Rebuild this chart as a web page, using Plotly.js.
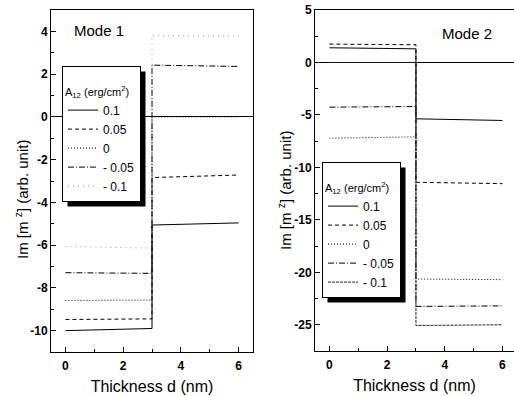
<!DOCTYPE html>
<html>
<head>
<meta charset="utf-8">
<script src="https://cdn.plot.ly/plotly-3.0.1.min.js"></script>
<style>
html,body{margin:0;padding:0;overflow:hidden;background:#fff;}
#chart g.xtick text, #chart g.ytick text, #chart g.x2tick text, #chart g.y2tick text { font-weight: 700 !important; }
</style>
</head>
<body>
<div id="chart" style="width:514px;height:396px;"></div>
<script>
// ---- data ----
const thickness = [0, 3, 3, 6];           // nm, step at d = 3 nm
const seriesLabels = ['0.1', '0.05', '0', '- 0.05', '- 0.1'];

// Mode 1 : Im[m_z] values at d = 0, 3 (left layer), 3, 6 (right layer)
const mode1_p010 = [-10.0, -9.9, -5.06, -4.96];
const mode1_p005 = [-9.48, -9.45, -2.84, -2.72];
const mode1_000  = [-8.59, -8.57, 0.0, 0.0];
const mode1_m005 = [-7.29, -7.32, 2.42, 2.36];
const mode1_m010 = [-6.06, -6.14, 3.80, 3.78];

// Mode 2
const mode2_p010 = [1.40, 1.30, -5.37, -5.53];
const mode2_p005 = [1.75, 1.69, -11.42, -11.55];
const mode2_000  = [-7.22, -7.09, -20.64, -20.70];
const mode2_m005 = [-4.26, -4.20, -23.25, -23.20];
const mode2_m010 = [0.0, 0.0, -25.07, -25.00];

// tick labels
const xTickVals = [0, 2, 4, 6];
const xTickText = ['0', '2', '4', '6'];
const y1TickVals = [-10, -8, -6, -4, -2, 0, 2, 4];
const y1TickText = ['-10', '-8', '-6', '-4', '-2', '0', '2', '4'];
const y2TickVals = [-25, -20, -15, -10, -5, 0, 5];
const y2TickText = ['-25', '-20', '-15', '-10', '-5', '0', '5'];

// ---- styles ----
const W = 514, H = 396, ML = 51, MR = 0, MT = 10, MB = 44;
const PW = W - ML - MR, PH = H - MT - MB;
const px = x => (x - ML) / PW;
const py = y => 1 - (y - MT) / PH;

const FAM = 'Liberation Sans, Arial, sans-serif';
const dash1 = ['solid', '4px,3px', '1px,2px', '6px,2px,1px,2px', '1px,4px'];
const col1  = ['#000', '#000', '#000', '#000', '#999'];
const dash2 = ['solid', '4px,3px', '1px,2px', '6px,2px,1px,2px', '3px,1px'];
const col2  = ['#000', '#000', '#000', '#000', '#222'];

const m1 = [mode1_p010, mode1_p005, mode1_000, mode1_m005, mode1_m010];
const m2 = [mode2_p010, mode2_p005, mode2_000, mode2_m005, mode2_m010];

const traces = [];
m1.forEach((ys, i) => traces.push({
  x: thickness, y: ys, type: 'scatter', mode: 'lines', name: seriesLabels[i],
  xaxis: 'x', yaxis: 'y', legend: 'legend',
  line: {color: col1[i], width: 1, dash: dash1[i]}
}));
m2.forEach((ys, i) => traces.push({
  x: thickness, y: ys, type: 'scatter', mode: 'lines', name: seriesLabels[i],
  xaxis: 'x2', yaxis: 'y2', legend: 'legend2',
  line: {color: col2[i], width: 1, dash: dash2[i]}
}));

const tickFont = {family: FAM, size: 12, color: '#000', weight: 700};
const titleFont = {family: FAM, size: 16, color: '#000'};

function xAx(domain, range, anchor) {
  return {
    domain: domain, range: range, anchor: anchor,
    showline: true, mirror: true, linecolor: '#000', linewidth: 1,
    showgrid: false, zeroline: false,
    ticks: 'inside', ticklen: 5, tickcolor: '#000',
    tickmode: 'array', tickvals: xTickVals, ticktext: xTickText,
    minor: {ticks: 'inside', ticklen: 3, dtick: 1, tick0: 0, tickcolor: '#000', showgrid: false},
    tickfont: tickFont, ticklabelstandoff: 3,
    title: {text: 'Thickness d (nm)', font: titleFont, standoff: 8}
  };
}
function yAx(domain, range, anchor, tv, tt, mdtick) {
  return {
    domain: domain, range: range, anchor: anchor,
    showline: true, mirror: true, linecolor: '#000', linewidth: 1,
    showgrid: false, zeroline: true, zerolinecolor: '#000', zerolinewidth: 1,
    ticks: 'inside', ticklen: 5, tickcolor: '#000',
    tickmode: 'array', tickvals: tv, ticktext: tt,
    minor: {ticks: 'inside', ticklen: 3, dtick: mdtick, tick0: 0, tickcolor: '#000', showgrid: false},
    tickfont: tickFont
  };
}

const legendBase = {
  xanchor: 'left', yanchor: 'top', bgcolor: '#fff', bordercolor: '#000', borderwidth: 1,
  font: {family: FAM, size: 12, color: '#000'},
  title: {text: '&nbsp;<br>A<sub>12</sub> (erg/cm<sup>2</sup>)', font: {family: FAM, size: 11, color: '#000'}},
  tracegroupgap: 0, itemwidth: 30
};

const yTitle = 'Im [m <sup>z</sup>] (arb. unit)';
const layout = {
  width: W, height: H,
  margin: {l: ML, r: MR, t: MT, b: MB},
  paper_bgcolor: '#fff', plot_bgcolor: '#fff',
  showlegend: true,
  xaxis: xAx([0, px(253)], [-0.5, 6.5], 'y'),
  yaxis: yAx([0, 1], [-11, 5], 'x', y1TickVals, y1TickText, 1),
  xaxis2: xAx([px(315), 1], [-0.5, 6.4], 'y2'),
  yaxis2: yAx([py(351), 1], [-27.5, 5], 'x2', y2TickVals, y2TickText, 2.5),
  legend: Object.assign({}, legendBase, {x: px(62), y: py(66)}),
  legend2: Object.assign({}, legendBase, {x: px(322), y: py(162)}),
  annotations: [
    {text: 'Mode 1', xref: 'paper', yref: 'paper', x: px(72), y: py(31), xanchor: 'left', yanchor: 'middle',
     showarrow: false, font: {family: FAM, size: 15, color: '#000'}},
    {text: 'Mode 2', xref: 'paper', yref: 'paper', x: px(440), y: py(33), xanchor: 'left', yanchor: 'middle',
     showarrow: false, font: {family: FAM, size: 15, color: '#000'}},
    {text: yTitle, xref: 'paper', yref: 'paper', x: px(21), y: py(200), xanchor: 'center', yanchor: 'middle',
     textangle: -90, showarrow: false, font: {family: FAM, size: 15, color: '#000'}},
    {text: yTitle, xref: 'paper', yref: 'paper', x: px(284), y: py(191), xanchor: 'center', yanchor: 'middle',
     textangle: -90, showarrow: false, font: {family: FAM, size: 15, color: '#000'}}
  ],
  shapes: []
};

Plotly.newPlot('chart', traces, layout, {staticPlot: true, displayModeBar: false}).then(gd => {
  const root = gd.getBoundingClientRect();
  const shapes = [];
  ['legend', 'legend2'].forEach(id => {
    const bg = gd.querySelector('g.' + id + ' rect.bg');
    if (!bg) return;
    const r = bg.getBoundingClientRect();
    const x0 = r.left - root.left, y0 = r.top - root.top;
    const x1 = r.right - root.left, y1 = r.bottom - root.top;
    const off = 5;
    shapes.push({type: 'rect', xref: 'paper', yref: 'paper', layer: 'above',
      x0: px(x0 + off), x1: px(x1 + off), y0: py(y0 + off), y1: py(y1 + off),
      fillcolor: '#000', line: {width: 0}});
  });
  Plotly.relayout(gd, {shapes: shapes});
});
</script>
</body>
</html>
